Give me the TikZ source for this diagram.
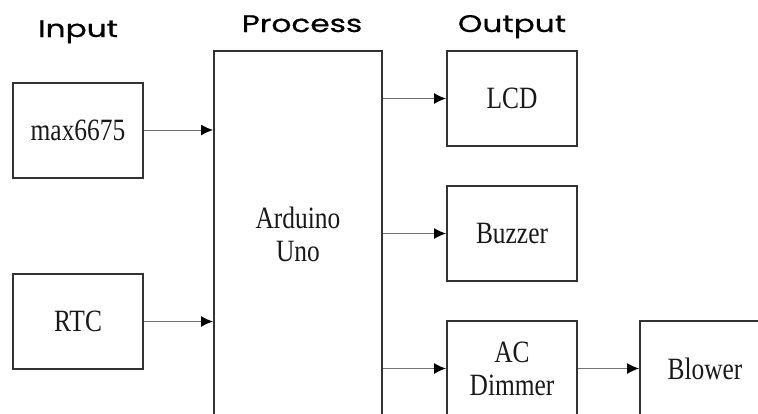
\documentclass[tikz,border=0pt]{standalone}
\usepackage{fontspec}
\setmainfont[FakeStretch=0.82]{Liberation Serif}
\newfontfamily\headfont[FakeStretch=1.3, FakeBold=0.6]{Poppins}
\usetikzlibrary{arrows.meta}
\tikzset{>={Latex[length=6pt,width=5.5pt,color=black]}}
\tikzset{
  block/.style={draw=black!80, line width=1pt, minimum width=65pt,
    minimum height=47.5pt, inner sep=0pt, align=center, text=black!90,
    font=\fontsize{15.5}{16.5}\selectfont},
  heading/.style={anchor=base, font=\headfont\fontsize{12}{14}\selectfont},
  link/.style={draw=black!55, line width=0.5pt, ->}
}

\begin{document}
\begin{tikzpicture}[x=0.5pt, y=-0.5pt]

\useasboundingbox (0,0) rectangle (758,413);
\clip (0,0) rectangle (758,413);

% column headings
\foreach \t/\x/\y [count=\i] in {Input/78/37, Process/302/32, Output/512/32}
  \node [heading] (head-\i) at (\x,\y) {\t};

% input side
\node [block] (max6675) at (78,130) {max6675};
\node [block] (rtc) at (78,321.5) {RTC};

% controller
\node [block, minimum width=84pt, minimum height=183pt] (uno) at (298,234)
  {Arduino\\Uno};

% output side
\node [block] (lcd) at (512,98.5) {LCD};
\node [block] (buzzer) at (512,233.5) {Buzzer};
\node [block] (dimmer) at (512,368.5) {AC\\Dimmer};
\node [block] (blower) at (705,368.5) {Blower};

\foreach \n in {max6675, rtc}
  \draw [link] (\n) -- (\n -| uno.west);

\foreach \n in {lcd, buzzer, dimmer}
  \draw [link] (uno.east |- \n) -- (\n);

\draw [link] (dimmer) -- (blower);

\end{tikzpicture}
\end{document}
